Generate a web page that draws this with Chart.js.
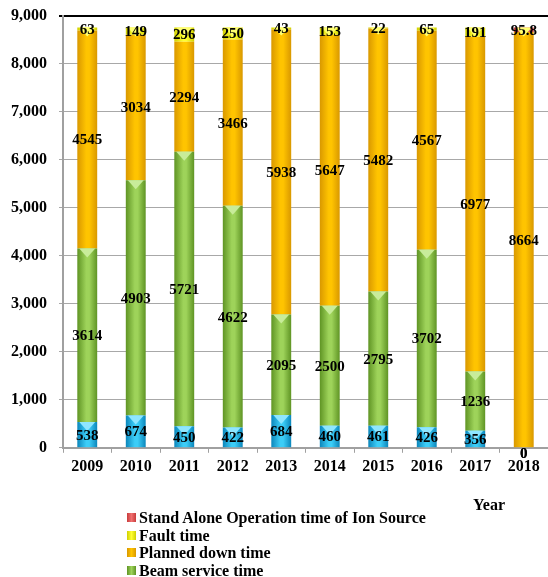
<!DOCTYPE html>
<html lang="en">
<head>
    <meta charset="UTF-8">
    <title>Operation time by year</title>
    <script src="https://cdn.jsdelivr.net/npm/chart.js"></script>
    <style>
        body { margin: 0; background: #fff; }
        #wrap { position: relative; width: 548px; height: 577px; overflow: hidden; }
        #legend, #xtitle {
            position: absolute;
            font-family: "Liberation Serif", "Times New Roman", serif;
            font-weight: bold; font-size: 16px; color: #000;
        }
        #legend { left: 127px; top: 509px; line-height: 17.5px; }
        #xtitle { left: 473px; top: 496px; }
        #legend .item { display: flex; align-items: center; white-space: nowrap; }
        #legend .box { width: 9px; height: 9px; margin-right: 3px; }
    </style>
</head>
<body>
    <div id="wrap">
        <canvas id="chart"></canvas>
        <div id="xtitle">Year</div>
        <div id="legend"></div>
    </div>
    <script>
        // data (hours per year)
        const years = ['2009', '2010', '2011', '2012', '2013', '2014', '2015', '2016', '2017', '2018'];
        const tuningTime = [538, 674, 450, 422, 684, 460, 461, 426, 356, 0];
        const serviceTime = [3614, 4903, 5721, 4622, 2095, 2500, 2795, 3702, 1236, 0];
        const plannedDown = [4545, 3034, 2294, 3466, 5938, 5647, 5482, 4567, 6977, 8664];
        const faultTime = [63, 149, 296, 250, 43, 153, 22, 65, 191, null];
        const standAlone = [null, null, null, null, null, null, null, null, null, 95.8];
        const yTicks = [0, 1000, 2000, 3000, 4000, 5000, 6000, 7000, 8000, 9000];

        const serif = '"Liberation Serif", "Times New Roman", serif';
        const BAR_FRAC = 0.41;

        // cylinder-ish shading: dark edges, light middle
        function shade(edge, mid) {
            return (ctx) => {
                const chart = ctx.chart;
                const area = chart.chartArea;
                if (!area || ctx.dataIndex === undefined) return mid;
                const cx = chart.scales.x.getPixelForValue(ctx.dataIndex);
                const w = (area.width / years.length) * BAR_FRAC;
                const g = chart.ctx.createLinearGradient(cx - w / 2, 0, cx + w / 2, 0);
                g.addColorStop(0, edge);
                g.addColorStop(0.45, mid);
                g.addColorStop(0.6, mid);
                g.addColorStop(1, edge);
                return g;
            };
        }

        const series = [
            { label: 'Beam tuning time', data: tuningTime, edge: '#0b86bb', mid: '#3ccdf7', cap: '#8fe6ff', legend: false },
            { label: 'Beam service time', data: serviceTime, edge: '#5f9424', mid: '#9ed35a', cap: '#c8ec9a', legend: true },
            { label: 'Planned down time', data: plannedDown, edge: '#d99800', mid: '#ffc400', cap: null, legend: true },
            { label: 'Fault time', data: faultTime, edge: '#d0d000', mid: '#ffff33', cap: '#ffff70', legend: true },
            { label: 'Stand Alone Operation time of Ion Source', data: standAlone, edge: '#c83c3c', mid: '#f07070', cap: '#ffff70', legend: true }
        ];

        // little bevel on top of every segment
        const caps = {
            id: 'caps',
            afterDatasetsDraw(chart) {
                const ctx = chart.ctx;
                ctx.save();
                chart.data.datasets.forEach((ds, i) => {
                    if (!series[i].cap) return;
                    chart.getDatasetMeta(i).data.forEach((bar, j) => {
                        const v = ds.data[j];
                        if (!v) return;
                        const h = Math.min(9, Math.abs(bar.base - bar.y) + 6);
                        ctx.fillStyle = series[i].cap;
                        ctx.beginPath();
                        ctx.moveTo(bar.x - bar.width / 2 + 2, bar.y);
                        ctx.lineTo(bar.x + bar.width / 2 - 2, bar.y);
                        ctx.lineTo(bar.x, bar.y + h);
                        ctx.closePath();
                        ctx.fill();
                    });
                });
                ctx.restore();
            }
        };

        // value labels in the middle of each segment
        const valueLabels = {
            id: 'valueLabels',
            afterDatasetsDraw(chart) {
                const ctx = chart.ctx;
                ctx.save();
                ctx.font = 'bold 15px ' + serif;
                ctx.fillStyle = '#000';
                ctx.textAlign = 'center';
                ctx.textBaseline = 'middle';
                chart.data.datasets.forEach((ds, i) => {
                    chart.getDatasetMeta(i).data.forEach((bar, j) => {
                        const v = ds.data[j];
                        if (v === null || v === undefined) return;
                        const yMid = (bar.y + bar.base) / 2;
                        const y = v === 0 ? yMid + 6 : yMid + 1;
                        ctx.fillText(String(v), bar.x, y);
                    });
                });
                ctx.restore();
            }
        };

        new Chart(document.getElementById('chart'), {
            type: 'bar',
            data: {
                labels: years,
                datasets: series.map(s => ({
                    label: s.label,
                    data: s.data,
                    backgroundColor: shade(s.edge, s.mid),
                    borderWidth: 0,
                    barPercentage: BAR_FRAC,
                    categoryPercentage: 1
                }))
            },
            options: {
                responsive: true,
                maintainAspectRatio: false,
                animation: false,
                layout: { padding: { top: 16, right: -2, bottom: 97, left: -1 } },
                plugins: {
                    legend: { display: false },
                    tooltip: { enabled: false }
                },
                scales: {
                    x: {
                        stacked: true,
                        grid: {
                            offset: true,
                            drawOnChartArea: false,
                            color: '#a0a0a0',
                            tickLength: 5
                        },
                        border: { color: '#a0a0a0', width: 2 },
                        ticks: {
                            color: '#000',
                            font: { family: serif, weight: 'bold', size: 16 },
                            padding: 4,
                            maxRotation: 0
                        }
                    },
                    y: {
                        stacked: true,
                        min: 0,
                        max: 9000,
                        afterBuildTicks: (axis) => { axis.ticks = yTicks.map(v => ({ value: v })); },
                        // the big tick padding should not push the plot down
                        afterFit: (axis) => { axis.paddingTop = 0; },
                        grid: {
                            color: (c) => c.tick && c.tick.value === 9000 ? '#000' : '#a8a8a8',
                            lineWidth: (c) => c.tick && c.tick.value === 9000 ? 2 : 1,
                            tickLength: 4
                        },
                        border: { color: '#a0a0a0', width: 2 },
                        ticks: {
                            color: '#000',
                            font: { family: serif, weight: 'bold', size: 16 },
                            padding: 12,
                            callback: (v) => v.toLocaleString('en-US')
                        }
                    }
                }
            },
            plugins: [caps, valueLabels]
        });

        // legend, top entry first, as in the picture
        const legendEl = document.getElementById('legend');
        series.slice().reverse().filter(s => s.legend).forEach(s => {
            const row = document.createElement('div');
            row.className = 'item';
            const box = document.createElement('span');
            box.className = 'box';
            box.style.background = 'linear-gradient(to right, ' + s.edge + ', ' + s.mid + ', ' + s.edge + ')';
            const txt = document.createElement('span');
            txt.textContent = s.label;
            row.appendChild(box);
            row.appendChild(txt);
            legendEl.appendChild(row);
        });
    </script>
</body>
</html>
